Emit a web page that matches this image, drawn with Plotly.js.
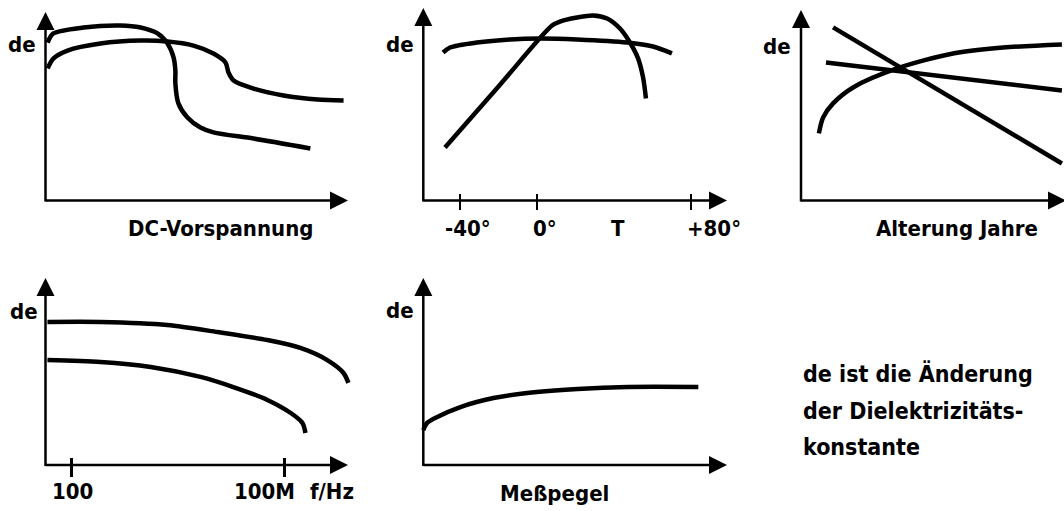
<!DOCTYPE html>
<html><head><meta charset="utf-8">
<script src="https://cdn.plot.ly/plotly-3.0.1.min.js"></script>
<style>html,body{margin:0;padding:0;background:#fff;}#chart{width:1064px;height:511px;}</style>
</head><body><div id="chart"></div>
<script>
// ---------- data ----------
// Panel 1: DC-Vorspannung (relative units along the axis)
const dcX_A = [0.7, 2.6, 12.6, 24.8, 31.5, 37.1, 40.4, 42.4, 43.0, 43.0, 44.0, 47.0, 51.3, 55.6, 68.9, 87.7];
const dcY_A = [84.9, 89.8, 93.0, 94.1, 93.0, 89.8, 84.4, 76.9, 69.9, 62.9, 52.2, 44.6, 39.2, 36.6, 33.3, 28.0];
const dcX_B = [0.7, 2.6, 7.3, 18.2, 31.5, 40.4, 49.0, 55.6, 59.6, 60.6, 62.3, 68.9, 78.8, 90.1, 98.7];
const dcY_B = [71.0, 76.3, 80.6, 84.4, 86.0, 85.5, 83.3, 79.0, 74.2, 68.8, 64.5, 60.2, 56.5, 54.3, 53.8];

// Panel 2: temperature (°C)
const tempFlatX = [-48.8, -45.2, -31.2, -14.0, 1.6, 20.8, 46.8, 60.3, 70.1];
const tempFlatY = [77.1, 79.7, 82.3, 83.9, 84.4, 83.9, 82.3, 80.2, 76.6];
const tempPeakX = [-47.8, -19.2, 7.8, 11.9, 20.8, 29.1, 36.4, 43.1, 48.3, 52.5, 55.1, 56.6];
const tempPeakY = [27.6, 60.3, 91.1, 93.2, 95.3, 96.4, 94.8, 89.6, 82.3, 74.0, 64.1, 53.1];
const tempTickVals = [-40, 0, 80];
const tempLabelVals = [-40, 0, 42, 80];
const tempLabelText = ['-40°', '0°', 'T', '+80°'];

// Panel 3: Alterung (relative units)
const ageLine1X = [12.2, 99.2];
const ageLine1Y = [91.1, 19.5];
const ageLine2X = [9.5, 99.2];
const ageLine2Y = [72.6, 57.9];
const ageCurveX = [6.8, 8.4, 12.2, 19.8, 36.5, 57.8, 76.8, 99.2];
const ageCurveY = [35.3, 43.7, 51.1, 59.5, 69.5, 77.4, 80.5, 82.1];

// Panel 4: frequency (Hz, log axis)
const freqUpperX = [21, 660, 5.0e4, 1.3e6, 3.3e7, 2.8e8, 1.6e9, 4.6e9, 6.3e9];
const freqUpperY = [76.5, 76.5, 74.9, 71.1, 66.8, 62.6, 56.1, 49.2, 43.9];
const freqLowerX = [21, 660, 1.7e4, 4.3e5, 3.6e6, 3.3e7, 1.5e8, 3.2e8, 3.9e8];
const freqLowerY = [56.1, 55.1, 52.4, 47.1, 41.7, 34.8, 27.8, 22.5, 17.1];
const freqTickVals = [100, 1e8];
const freqTickText = ['100', '100M'];

// Panel 5: Meßpegel (relative units)
const levelX = [0, 1.3, 4.7, 12.5, 23.6, 35.0, 51.9, 68.7, 92.6];
const levelY = [18.7, 22.5, 25.7, 31.0, 35.8, 38.5, 40.6, 41.7, 41.7];

// Texts
const yLabel = 'de';
const xLabels = ['DC-Vorspannung', 'Alterung Jahre', 'Meßpegel', 'f/Hz'];
const noteLines = ['de ist die Änderung', 'der Dielektrizitäts-', 'konstante'];

// ---------- layout helpers ----------
const W = 1064, H = 511;
const FONT = {family: 'DejaVu Sans Condensed', size: 22, color: '#000', weight: 'bold'};
const NOTE_FONT = {family: 'DejaVu Sans Condensed', size: 23, color: '#000', weight: 'bold'};
const px = x => x / W;
const py = y => 1 - y / H;

// geometry of each small panel in pixels (origin, pixel scale, arrow tips)
const panels = [
  {ax: '',  ox: 45.5,  oy: 200.5, kx: 3.02,  x0: 0,      ky: 1.86, xTip: 348,  yTip: 12,  type: 'linear'},
  {ax: '2', ox: 423.3, oy: 200.5, kx: 1.925, x0: -59.06, ky: 1.92, xTip: 727,  yTip: 8,   type: 'linear'},
  {ax: '3', ox: 801,   oy: 200.5, kx: 2.63,  x0: 0,      ky: 1.9,  xTip: 1066, yTip: 10,  type: 'linear'},
  {ax: '4', ox: 45.5,  oy: 465,   kx: 35.5,  x0: 1.2676, ky: 1.87, xTip: 348,  yTip: 278, type: 'log'},
  {ax: '5', ox: 423.3, oy: 465,   kx: 2.97,  x0: 0,      ky: 1.87, xTip: 727,  yTip: 278, type: 'linear'}
];

const layout = {
  width: W, height: H,
  margin: {l: 0, r: 0, t: 0, b: 0, pad: 0},
  paper_bgcolor: '#fff', plot_bgcolor: 'rgba(0,0,0,0)',
  showlegend: false,
  font: FONT,
  shapes: [], annotations: []
};

const PAD = 8;
panels.forEach((p, i) => {
  const xEnd = Math.min(p.xTip + 4, W);
  const xa = {
    type: p.type,
    domain: [px(p.ox - PAD), px(xEnd)],
    range: [p.x0 - PAD / p.kx, p.x0 + (xEnd - p.ox) / p.kx],
    showgrid: false, zeroline: false, showline: false,
    showticklabels: false, ticks: '', fixedrange: true,
    anchor: 'free', position: py(p.oy)
  };
  const ya = {
    domain: [py(p.oy + PAD), py(p.yTip - 4)],
    range: [-PAD / p.ky, (p.oy - (p.yTip - 4)) / p.ky],
    showgrid: false, zeroline: false, showline: false,
    showticklabels: false, ticks: '', fixedrange: true,
    anchor: 'x' + p.ax
  };
  layout['xaxis' + p.ax] = xa;
  layout['yaxis' + p.ax] = ya;

  // axis lines with arrow heads
  const L = 18, hw = 9;
  layout.shapes.push({type: 'line', xref: 'paper', yref: 'paper',
    x0: px(p.ox), y0: py(p.oy), x1: px(p.xTip - L + 2), y1: py(p.oy),
    line: {color: '#000', width: 2.5}});
  layout.shapes.push({type: 'line', xref: 'paper', yref: 'paper',
    x0: px(p.ox), y0: py(p.oy + 1), x1: px(p.ox), y1: py(p.yTip + L - 2),
    line: {color: '#000', width: 2.5}});
  layout.shapes.push({type: 'path', xref: 'paper', yref: 'paper',
    path: `M ${px(p.xTip)} ${py(p.oy)} L ${px(p.xTip - L)} ${py(p.oy - hw)} L ${px(p.xTip - L)} ${py(p.oy + hw)} Z`,
    fillcolor: '#000', line: {width: 0}});
  layout.shapes.push({type: 'path', xref: 'paper', yref: 'paper',
    path: `M ${px(p.ox)} ${py(p.yTip)} L ${px(p.ox - hw)} ${py(p.yTip + L)} L ${px(p.ox + hw)} ${py(p.yTip + L)} Z`,
    fillcolor: '#000', line: {width: 0}});
});

// tick marks crossing the axis (panels 2 and 4)
Object.assign(layout.xaxis2, {ticks: 'outside', tickvals: tempTickVals, ticklen: 16, tickwidth: 2.5, tickcolor: '#000', position: py(193)});
Object.assign(layout.xaxis4, {ticks: 'outside', tickvals: freqTickVals, ticklen: 19, tickwidth: 2.5, tickcolor: '#000', position: py(457)});

// "de" labels on each y axis
const deCenters = [[21.5, 44], [400, 44.5], [777, 46], [24, 311], [400, 310]];
deCenters.forEach(c => layout.annotations.push({
  text: yLabel, xref: 'paper', yref: 'paper', x: px(c[0]), y: py(c[1]),
  xanchor: 'center', yanchor: 'middle', showarrow: false, font: FONT}));

// axis captions
const captionCenters = [[220, 229], [957, 229], [554, 493], [332, 491]];
xLabels.forEach((t, i) => layout.annotations.push({
  text: t, xref: 'paper', yref: 'paper', x: px(captionCenters[i][0]), y: py(captionCenters[i][1]),
  xanchor: 'center', yanchor: 'middle', showarrow: false, font: FONT}));

// tick labels panel 2 (offset from tick value)
const tempLabelShift = [8, 8, 0, 23];
tempLabelVals.forEach((v, i) => layout.annotations.push({
  text: tempLabelText[i], xref: 'x2', yref: 'paper', x: v, y: py(228),
  xshift: tempLabelShift[i], xanchor: 'center', yanchor: 'middle', showarrow: false, font: FONT}));

// tick labels panel 4
const freqLabelShift = [1, -20];
freqTickVals.forEach((v, i) => layout.annotations.push({
  text: freqTickText[i], xref: 'x4', yref: 'paper', x: Math.log10(v), y: py(491),
  xshift: freqLabelShift[i], xanchor: 'center', yanchor: 'middle', showarrow: false, font: FONT}));

// explanatory note
const noteY = [373, 411, 447];
noteLines.forEach((t, i) => layout.annotations.push({
  text: t, xref: 'paper', yref: 'paper', x: px(801), y: py(noteY[i]),
  xanchor: 'left', yanchor: 'middle', showarrow: false, font: NOTE_FONT}));

// ---------- traces ----------
const LINE = {color: '#000', width: 4.5, shape: 'spline', smoothing: 0.8};
function tr(x, y, ax, straight) {
  return {x: x, y: y, xaxis: 'x' + ax, yaxis: 'y' + ax, type: 'scatter', mode: 'lines',
    line: straight ? {color: '#000', width: 4.5} : LINE, hoverinfo: 'skip'};
}
const data = [
  tr(dcX_A, dcY_A, ''),
  tr(dcX_B, dcY_B, ''),
  tr(tempFlatX, tempFlatY, '2'),
  tr(tempPeakX, tempPeakY, '2'),
  tr(ageLine1X, ageLine1Y, '3', true),
  tr(ageLine2X, ageLine2Y, '3', true),
  tr(ageCurveX, ageCurveY, '3'),
  tr(freqUpperX, freqUpperY, '4'),
  tr(freqLowerX, freqLowerY, '4'),
  tr(levelX, levelY, '5')
];

Plotly.newPlot('chart', data, layout, {staticPlot: true, displayModeBar: false});
</script>
</body></html>
